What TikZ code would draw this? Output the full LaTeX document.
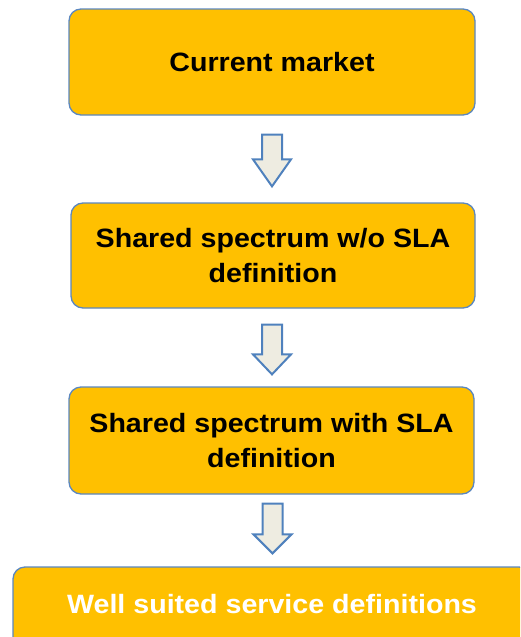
\documentclass[tikz,border=0pt]{standalone}
\usepackage{fontspec}
\setmainfont{Liberation Sans}[FakeStretch=1.08]
\usetikzlibrary{calc}

\definecolor{boxfill}{HTML}{FFC000}
\definecolor{boxline}{HTML}{5B87C0}
\definecolor{arrowfill}{HTML}{EEECE1}
\definecolor{arrowline}{HTML}{4F81BD}

\tikzset{
  stage/.style={draw=boxline, line width=1.3pt, fill=boxfill, rounded corners=12pt,
    inner sep=0pt, align=center,
    font=\bfseries\fontsize{26.5}{35}\selectfont},
  blockarrow/.style={draw=arrowline, line width=2pt, fill=arrowfill, line join=miter}
}

% hollow down arrow from coordinate #1 (top of shaft) to coordinate #2 (tip), head length #3
\newcommand\downblock[3]{%
  \draw[blockarrow] let \p1=(#1), \p2=(#2) in
    (\x1-10pt,\y1) -- (\x1+10pt,\y1) -- (\x1+10pt,\y2+#3) -- (\x1+19pt,\y2+#3)
    -- (\x1,\y2) -- (\x1-19pt,\y2+#3) -- (\x1-10pt,\y2+#3) -- cycle;}

\begin{document}
\begin{tikzpicture}[x=1pt,y=1pt]
  \useasboundingbox (0,0) rectangle (520,-637);
  \clip (0,0) rectangle (520,-637);

  \node[stage, minimum width=406pt, minimum height=106pt] (b1) at (272,-62) {Current market};
  \node[stage, minimum width=404pt, minimum height=105pt] (b2) at (273,-255.5)
    {Shared spectrum w/o SLA\\definition};
  \node[stage, minimum width=405pt, minimum height=107pt] (b3) at (271.5,-440.5)
    {Shared spectrum with SLA\\definition};
  \node[stage, text=white, minimum width=518pt, minimum height=100pt,
        text height=20pt, text depth=28pt] (b4) at (272,-617)
    {Well suited service definitions};

  \coordinate (a1s) at ($(b1.south)+(0,-19)$);
  \coordinate (a1e) at ($(b2.north)+(0,16)$);
  \coordinate (a2s) at ($(b2.south)+(-1,-16)$);
  \coordinate (a2e) at ($(b3.north)+(0,12)$);
  \coordinate (a3s) at ($(b3.south)+(1,-9)$);
  \coordinate (a3e) at ($(b4.north)+(0,13)$);

  \downblock{a1s}{a1e}{27}
  \downblock{a2s}{a2e}{20}
  \downblock{a3s}{a3e}{19}
\end{tikzpicture}
\end{document}
